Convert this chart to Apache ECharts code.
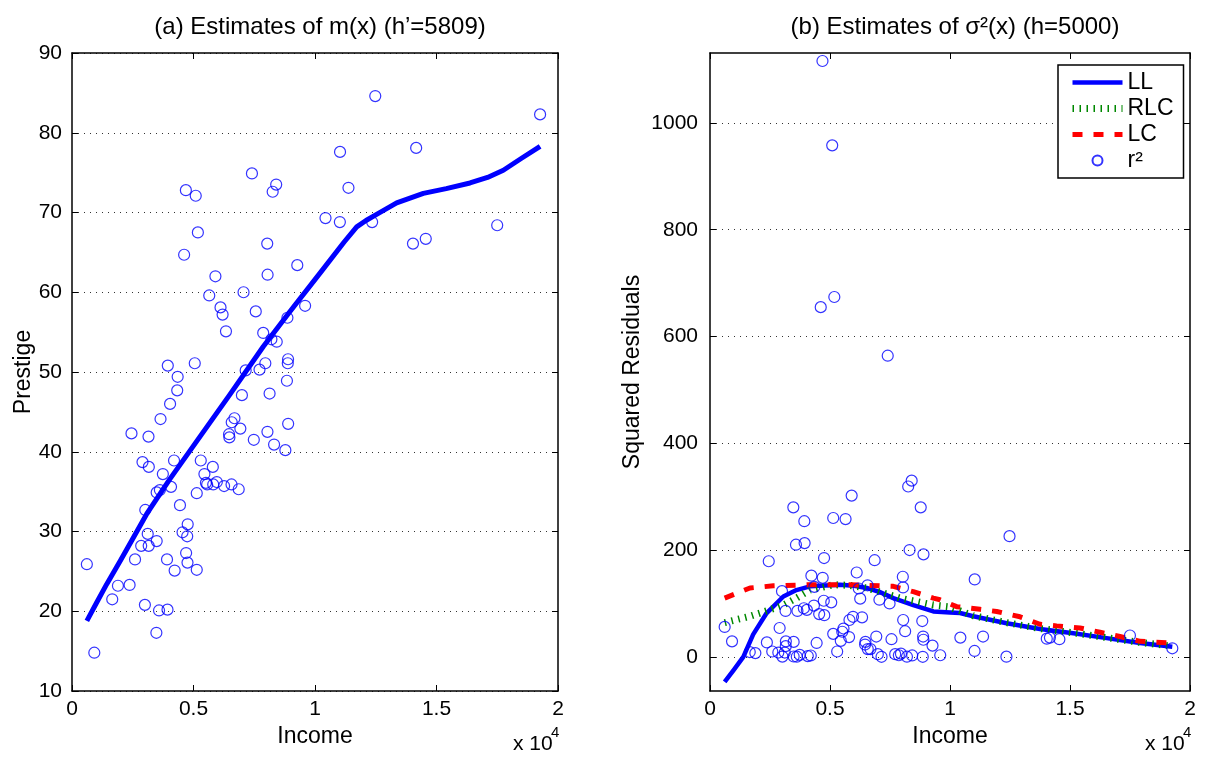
<!DOCTYPE html>
<html><head><meta charset="utf-8">
<script src="https://cdn.jsdelivr.net/npm/echarts@6/dist/echarts.min.js"></script>
<style>html,body{margin:0;padding:0;background:#fff}#c{width:1213px;height:760px}</style>
</head><body><div id="c"></div>
<script>
// Observed data: income, prestige (left) and squared residuals (right)
const income = [12351,9271,8865,8403,11030,8258,14163,11377,11023,5902,7059,8425,8049,7405,6336,19263,6112,9593,4686,12480,5648,8034,14558,17498,4614,3485,5092,10432,5180,6197,7562,8206,4036,3148,4348,2448,4330,4761,3016,2901,5511,3739,3161,4741,5052,6259,4075,7482,8780,2594,918,2370,8131,6992,7956,8895,8891,3116,3930,7869,611,3000,3472,3582,3643,1656,6860,4199,5134,5134,1890,4443,3485,8043,6686,6565,6477,3156,5811,6573,3942,5449,2847,5795,7716,4696,8316,7147,8880,5299,5959,4549,6928,3910,14032,8845,5562,4224,4753,6462,3617];
const prestige = [68.8,63.4,56.8,73.5,77.6,72.6,78.1,73.1,68.8,62.0,60.0,53.8,62.2,74.9,55.1,82.3,58.1,58.3,72.8,84.6,59.6,66.1,66.7,68.4,64.7,34.9,72.1,69.3,67.5,57.2,57.6,54.1,46.0,41.9,49.4,42.3,47.7,30.9,32.7,38.7,36.1,37.2,38.1,29.4,51.1,35.7,35.6,41.5,40.2,26.5,14.8,23.3,47.3,47.1,51.1,43.5,51.6,29.7,20.2,54.9,25.9,20.8,17.3,20.1,44.1,21.5,35.3,38.9,25.2,34.8,23.2,33.3,28.8,42.5,44.2,35.9,41.8,28.2,35.9,43.7,50.8,37.2,28.2,38.1,50.3,27.3,40.9,50.2,51.1,38.9,36.2,29.9,42.9,26.5,66.1,48.9,35.9,25.1,26.1,42.2,35.2];
const sqResid = [0.3,21,0.1,330,145,319,36,38,11,302,107,2.6,69,564,74,16,158,3,1116,226,258,150,33,40,655,0.6,958,36,674,128,33,0.2,88,86,131,179,96,78,0.5,54,47,3.7,29,105,102,109,1.4,100,280,10,29,27,48,5,6,192,32,8,254,3,56,123,280,210,86,9,181,2.5,260,43,7,26,28,130,14.5,134,28,20,69,14.5,213,30,8,37,5,148,200,0.1,38,10,75,80,38,91,34,67,53,152,185,23,0.2];

// Estimated curves
const mX = [611,1000,1428,2000,2500,3074,4033,5267,6502,7873,8971,10206,11200,11716,12100,12500,13361,14458,15400,16379,17100,17750,18500,19263];
const mY = [18.8,21.0,23.4,26.4,29.1,32.2,36.6,41.9,47.2,53.2,57.6,62.4,66.3,68.2,69.0,69.7,71.2,72.4,73.0,73.7,74.4,75.3,76.8,78.3];
const llX = [611,1000,1389,1800,2361,3056,3600,4167,5417,6000,6528,7100,7639,8472,9306,10000,10417,10972,12361,13750,15139,16528,17917,19263];
const llY = [-47,-24,0,42,82,113,125,132,135,133,129,121,110,97,85,83,82,76,63,52,44,35,26,19];
const rlcX = [611,1667,2361,3056,3600,4167,5139,5800,6528,7917,9306,9900,10417,10972,12361,13750,15139,16528,17917,19263];
const rlcY = [64,76,86,97,110,125,135,134,129,110,97,94,86,77,64,53,45,36,27,20];
const lcX = [611,1667,2639,4167,5833,7639,8472,9306,9583,10278,11250,11944,12917,13750,14444,15417,16250,17083,17917,19263];
const lcY = [110,129,133,135,135,132,122,110,107,94,89,85,75,61,58,54,46,38,29,26];

const rightYTicks = [0,200,400,600,800,1000];

const FONT = 'Liberation Sans';
const zip = (a, b) => a.map((v, i) => [v, b[i]]);

function xAx(gi, pos, label, name) {
  return {
    type: 'value', gridIndex: gi, position: pos, min: 0, max: 20000, interval: 5000,
    axisLine: {show: true, onZero: false, lineStyle: {color: '#000', width: 1.5}},
    axisTick: {show: true, inside: true, length: 6, lineStyle: {color: '#000', width: 1}},
    axisLabel: {show: label, color: '#000', fontSize: 21, fontFamily: FONT, margin: 8,
      formatter: v => String(v / 10000)},
    splitLine: {show: false},
    name: name || '', nameLocation: 'middle', nameGap: 34,
    nameTextStyle: {color: '#000', fontSize: 23, fontFamily: FONT}
  };
}
const gridLine = {show: true, lineStyle: {color: '#333', width: 1, type: [1, 5]}};
function yLeft(pos, label, name, gap) {
  return {
    type: 'value', gridIndex: 0, position: pos, min: 10, max: 90, interval: 10,
    axisLine: {show: true, onZero: false, lineStyle: {color: '#000', width: 1.5}},
    axisTick: {show: true, inside: true, length: 6, lineStyle: {color: '#000', width: 1}},
    axisLabel: {show: label, color: '#000', fontSize: 21, fontFamily: FONT, margin: 10},
    splitLine: label ? gridLine : {show: false},
    name: name || '', nameLocation: 'middle', nameGap: gap || 0,
    nameTextStyle: {color: '#000', fontSize: 23, fontFamily: FONT}
  };
}
function yRight(pos, label, name, gap) {
  return {
    type: 'value', gridIndex: 1, position: pos, min: -64, max: 1131,
    axisLine: {show: true, onZero: false, lineStyle: {color: '#000', width: 1.5}},
    axisTick: {show: true, inside: true, length: 6, customValues: rightYTicks, lineStyle: {color: '#000', width: 1}},
    axisLabel: {show: label, color: '#000', fontSize: 21, fontFamily: FONT, margin: 12,
      customValues: rightYTicks, formatter: v => String(v)},
    splitLine: label ? gridLine : {show: false},
    name: name || '', nameLocation: 'middle', nameGap: gap || 0,
    nameTextStyle: {color: '#000', fontSize: 23, fontFamily: FONT}
  };
}
const circleStyle = {color: 'rgba(0,0,0,0)', borderColor: '#0000ff', borderWidth: 1.2};
const noSym = {color: 'rgba(0,0,0,0)', borderWidth: 0};

const chart = echarts.init(document.getElementById('c'), null, {renderer: 'canvas'});
chart.setOption({
  animation: false,
  backgroundColor: '#fff',
  textStyle: {fontFamily: FONT},
  title: [
    {text: '(a) Estimates of m(x) (h\u2019=5809)', left: 315, top: 10, textAlign: 'center',
     textStyle: {fontSize: 24, fontWeight: 'normal', color: '#000', fontFamily: FONT}},
    {text: '(b) Estimates of \u03c3\u00b2(x) (h=5000)', left: 950, top: 10, textAlign: 'center',
     textStyle: {fontSize: 24, fontWeight: 'normal', color: '#000', fontFamily: FONT}}
  ],
  grid: [
    {left: 72, top: 53, width: 486, height: 638, containLabel: false},
    {left: 710, top: 53, width: 480, height: 638, containLabel: false}
  ],
  xAxis: [xAx(0, 'bottom', true, 'Income'), xAx(0, 'top', false), xAx(1, 'bottom', true, 'Income'), xAx(1, 'top', false)],
  yAxis: [yLeft('left', true, 'Prestige', 36), yLeft('right', false), yRight('left', true, 'Squared Residuals', 66), yRight('right', false)],
  legend: {
    orient: 'vertical', left: 1058, top: 65,
    data: [
      {name: 'LL', itemStyle: noSym, lineStyle: {width: 4.5}},
      {name: 'RLC', itemStyle: noSym, lineStyle: {width: 7}},
      {name: 'LC', itemStyle: noSym, lineStyle: {width: 5}},
      {name: 'r\u00b2'}
    ],
    itemWidth: 50, itemHeight: 10, itemGap: 3,
    padding: [6, 10, 6, 11],
    borderColor: '#000', borderWidth: 1.5, backgroundColor: '#fff',
    textStyle: {fontSize: 23, color: '#000', fontFamily: FONT}
  },
  graphic: [
    {type: 'text', left: 513, top: 734, style: {text: 'x 10', fontSize: 21, fontFamily: FONT, fill: '#000'}},
    {type: 'text', left: 551, top: 725, style: {text: '4', fontSize: 15, fontFamily: FONT, fill: '#000'}},
    {type: 'text', left: 1145, top: 734, style: {text: 'x 10', fontSize: 21, fontFamily: FONT, fill: '#000'}},
    {type: 'text', left: 1183, top: 725, style: {text: '4', fontSize: 15, fontFamily: FONT, fill: '#000'}}
  ],
  series: [
    {name: 'obs', type: 'scatter', xAxisIndex: 0, yAxisIndex: 0, data: zip(income, prestige),
     symbol: 'circle', symbolSize: 11, itemStyle: circleStyle, z: 2},
    {name: 'm', type: 'line', xAxisIndex: 0, yAxisIndex: 0, data: zip(mX, mY),
     showSymbol: false, symbol: 'none', smooth: false,
     lineStyle: {color: '#0000ff', width: 5, join: 'round'}, z: 3},
    {name: 'LL', type: 'line', xAxisIndex: 2, yAxisIndex: 2, data: zip(llX, llY),
     showSymbol: false, symbol: 'none', smooth: false,
     itemStyle: {color: '#0000ff'}, lineStyle: {color: '#0000ff', width: 4.5, join: 'round'}, z: 3},
    {name: 'RLC', type: 'line', xAxisIndex: 2, yAxisIndex: 2, data: zip(rlcX, rlcY),
     showSymbol: false, symbol: 'none', smooth: false,
     itemStyle: {color: '#008800'}, lineStyle: {color: '#008800', width: 7, type: [1.5, 5.5], cap: 'butt'}, z: 4},
    {name: 'LC', type: 'line', xAxisIndex: 2, yAxisIndex: 2, data: zip(lcX, lcY),
     showSymbol: false, symbol: 'none', smooth: false,
     itemStyle: {color: '#ff0000'}, lineStyle: {color: '#ff0000', width: 5, type: [10, 11], cap: 'butt'}, z: 5},
    {name: 'r\u00b2', type: 'scatter', xAxisIndex: 2, yAxisIndex: 2, data: zip(income, sqResid),
     symbol: 'circle', symbolSize: 11, itemStyle: circleStyle, z: 6}
  ]
});
</script>
</body></html>
